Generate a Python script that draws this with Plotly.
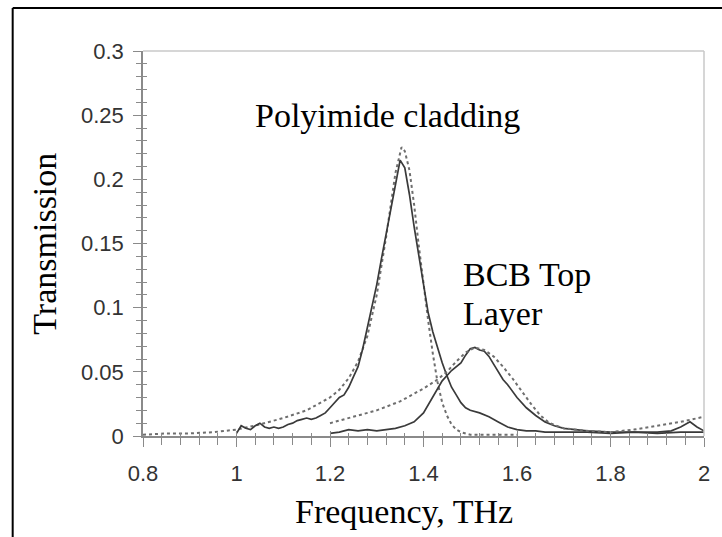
import plotly.graph_objects as go

# ---- measured transmission, polyimide cladding ----
poly_freq = [1.00, 1.01, 1.02, 1.03, 1.04, 1.05, 1.06, 1.07, 1.08, 1.09,
             1.10, 1.11, 1.12, 1.13, 1.14, 1.15, 1.16, 1.17, 1.18, 1.19,
             1.20, 1.21, 1.22, 1.23, 1.24, 1.25, 1.26, 1.27, 1.28, 1.29,
             1.30, 1.31, 1.32, 1.33, 1.34, 1.35, 1.36, 1.37, 1.38, 1.39,
             1.40, 1.41, 1.42, 1.43, 1.44, 1.45, 1.46, 1.47, 1.48, 1.49,
             1.50, 1.52, 1.54, 1.56, 1.58, 1.60, 1.62, 1.64, 1.66, 1.70,
             1.75, 1.80, 1.85, 1.90, 1.95, 2.00]
poly_meas = [0.002, 0.008, 0.006, 0.005, 0.008, 0.010, 0.007, 0.006, 0.007, 0.006,
             0.007, 0.009, 0.010, 0.012, 0.013, 0.014, 0.013, 0.014, 0.016, 0.018,
             0.022, 0.026, 0.030, 0.032, 0.038, 0.046, 0.054, 0.068, 0.084, 0.100,
             0.118, 0.138, 0.158, 0.178, 0.198, 0.215, 0.209, 0.188, 0.163, 0.140,
             0.116, 0.096, 0.081, 0.069, 0.057, 0.047, 0.038, 0.032, 0.026, 0.022,
             0.020, 0.018, 0.015, 0.011, 0.007, 0.005, 0.004, 0.004, 0.003, 0.003,
             0.003, 0.002, 0.003, 0.002, 0.003, 0.003]

# ---- fitted curve, polyimide cladding ----
poly_fit_freq = [0.80, 0.85, 0.90, 0.95, 1.00, 1.05, 1.10, 1.15, 1.20, 1.22,
                 1.24, 1.26, 1.28, 1.30, 1.32, 1.34, 1.353, 1.36, 1.37, 1.38,
                 1.39, 1.40, 1.41, 1.42, 1.43, 1.44, 1.45, 1.46, 1.47, 1.48,
                 1.50, 1.55, 1.60]
poly_fit = [0.001, 0.002, 0.002, 0.003, 0.005, 0.009, 0.014, 0.020, 0.030, 0.036,
            0.045, 0.058, 0.078, 0.110, 0.155, 0.205, 0.225, 0.222, 0.207, 0.180,
            0.148, 0.118, 0.090, 0.064, 0.042, 0.026, 0.016, 0.009, 0.005, 0.003,
            0.001, 0.001, 0.001]

# ---- measured transmission, BCB top layer ----
bcb_freq = [1.20, 1.22, 1.24, 1.26, 1.28, 1.30, 1.32, 1.34, 1.36, 1.38,
            1.40, 1.42, 1.44, 1.46, 1.47, 1.48, 1.49, 1.50, 1.51, 1.52,
            1.53, 1.54, 1.55, 1.56, 1.57, 1.58, 1.59, 1.60, 1.62, 1.64,
            1.66, 1.68, 1.70, 1.72, 1.75, 1.80, 1.85, 1.90, 1.93, 1.95,
            1.97, 1.985, 2.00]
bcb_meas = [0.002, 0.003, 0.005, 0.004, 0.005, 0.004, 0.005, 0.006, 0.008, 0.011,
            0.018, 0.031, 0.043, 0.051, 0.054, 0.057, 0.063, 0.068, 0.069, 0.067,
            0.066, 0.062, 0.056, 0.050, 0.044, 0.040, 0.035, 0.030, 0.022, 0.016,
            0.011, 0.008, 0.006, 0.005, 0.004, 0.003, 0.003, 0.003, 0.004, 0.007,
            0.011, 0.007, 0.004]

# ---- fitted curve, BCB top layer ----
bcb_fit_freq = [1.20, 1.25, 1.30, 1.35, 1.40, 1.43, 1.45, 1.47, 1.49, 1.51,
                1.53, 1.55, 1.57, 1.59, 1.61, 1.63, 1.65, 1.67, 1.70, 1.75,
                1.80, 1.85, 1.90, 1.95, 2.00]
bcb_fit = [0.010, 0.015, 0.020, 0.027, 0.037, 0.044, 0.050, 0.058, 0.065, 0.069,
           0.067, 0.062, 0.054, 0.045, 0.035, 0.025, 0.016, 0.010, 0.006, 0.004,
           0.003, 0.005, 0.008, 0.011, 0.015]

# ---- axes ----
x_ticks = [0.8, 1.0, 1.2, 1.4, 1.6, 1.8, 2.0]
x_labels = ["0.8", "1", "1.2", "1.4", "1.6", "1.8", "2"]
y_ticks = [0, 0.05, 0.1, 0.15, 0.2, 0.25, 0.3]
y_labels = ["0", "0.05", "0.1", "0.15", "0.2", "0.25", "0.3"]

SERIF = "Liberation Serif, Times New Roman, serif"
SANS = "Liberation Sans, Arial, sans-serif"
AXIS_GREY = "#8a8a8a"
SOLID = "#3a3a3a"
DOTTED = "#6e6e6e"

fig = go.Figure()
fig.add_trace(go.Scatter(x=poly_fit_freq, y=poly_fit, mode="lines",
                         line=dict(color=DOTTED, width=2, dash="dot"),
                         name="Polyimide fit"))
fig.add_trace(go.Scatter(x=poly_freq, y=poly_meas, mode="lines",
                         line=dict(color=SOLID, width=1.7),
                         name="Polyimide cladding"))
fig.add_trace(go.Scatter(x=bcb_freq, y=bcb_meas, mode="lines",
                         line=dict(color=SOLID, width=1.7),
                         name="BCB Top Layer"))
# the BCB fit sits on the overlay axes that carry the inward tick marks
fig.add_trace(go.Scatter(x=bcb_fit_freq, y=bcb_fit, mode="lines",
                         line=dict(color=DOTTED, width=2, dash="dot"),
                         name="BCB fit", xaxis="x2", yaxis="y2"))

x_common = dict(range=[0.8, 2.0], showgrid=False, zeroline=False,
                tickvals=x_ticks)
y_common = dict(range=[0, 0.3], showgrid=False, zeroline=False,
                tickvals=y_ticks)

fig.update_layout(
    width=722, height=537,
    margin=dict(l=143, r=15, t=51, b=101),
    paper_bgcolor="white", plot_bgcolor="white",
    showlegend=False,
    xaxis=dict(**x_common, ticktext=x_labels, ticks="outside", ticklen=9,
               tickwidth=1, tickcolor=AXIS_GREY,
               showline=True, linecolor=AXIS_GREY, linewidth=1.5,
               tickfont=dict(family=SANS, size=22, color="#333333"),
               ticklabelstandoff=8,
               minor=dict(tick0=0.8, dtick=0.04, ticks="outside", ticklen=7,
                          tickcolor=AXIS_GREY, tickwidth=1)),
    yaxis=dict(**y_common, ticktext=y_labels, ticks="outside", ticklen=8,
               tickwidth=1, tickcolor=AXIS_GREY,
               showline=True, linecolor=AXIS_GREY, linewidth=1.5,
               tickfont=dict(family=SANS, size=22, color="#333333"),
               ticklabelstandoff=5,
               minor=dict(tick0=0, dtick=0.01, ticks="outside", ticklen=5,
                          tickcolor=AXIS_GREY, tickwidth=1)),
    xaxis2=dict(**x_common, overlaying="x", anchor="y2", showticklabels=False,
                ticks="inside", ticklen=5, tickcolor=AXIS_GREY, tickwidth=1,
                minor=dict(tick0=0.8, dtick=0.04, ticks="inside", ticklen=3,
                           tickcolor=AXIS_GREY, tickwidth=1)),
    yaxis2=dict(**y_common, overlaying="y", anchor="x2", showticklabels=False,
                ticks="inside", ticklen=4, tickcolor=AXIS_GREY, tickwidth=1,
                minor=dict(tick0=0, dtick=0.01, ticks="inside", ticklen=4,
                           tickcolor=AXIS_GREY, tickwidth=1)),
)

# light frame on top and right of the plotting area
fig.add_shape(type="line", xref="paper", yref="paper", x0=0, x1=1, y0=1, y1=1,
              line=dict(color="#c8c8c8", width=1.5))
fig.add_shape(type="line", xref="paper", yref="paper", x0=1, x1=1, y0=0, y1=1,
              line=dict(color="#c8c8c8", width=1.5))
# black outer border (top and left)
fig.add_shape(type="line", xref="paper", yref="paper",
              x0=-0.2323, x1=1.1, y0=1.1117, y1=1.1117,
              line=dict(color="black", width=2))
fig.add_shape(type="line", xref="paper", yref="paper",
              x0=-0.2323, x1=-0.2323, y0=-0.4, y1=1.1117,
              line=dict(color="black", width=2))

# axis titles and curve labels
fig.add_annotation(text="Frequency, THz", xref="paper", yref="paper",
                   x=0.466, y=-0.195, xanchor="center", yanchor="middle",
                   showarrow=False, font=dict(family=SERIF, size=34, color="black"))
fig.add_annotation(text="Transmission", xref="paper", yref="paper",
                   x=-0.177, y=0.4987, xanchor="center", yanchor="middle",
                   textangle=-90, showarrow=False,
                   font=dict(family=SERIF, size=34, color="black"))
fig.add_annotation(text="Polyimide cladding", x=1.323, y=0.2495,
                   xanchor="center", yanchor="middle", showarrow=False,
                   font=dict(family=SERIF, size=34, color="black"))
fig.add_annotation(text="BCB Top", x=1.481, y=0.126,
                   xanchor="left", yanchor="middle", showarrow=False,
                   font=dict(family=SERIF, size=34, color="black"))
fig.add_annotation(text="Layer", x=1.481, y=0.0958,
                   xanchor="left", yanchor="middle", showarrow=False,
                   font=dict(family=SERIF, size=34, color="black"))

fig.write_html("out.html")
